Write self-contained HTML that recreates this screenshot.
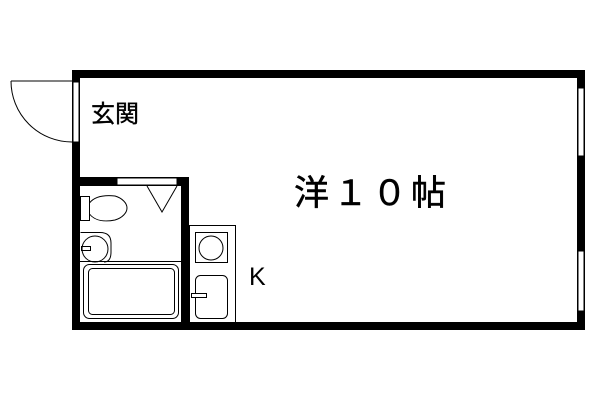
<!DOCTYPE html>
<html><head><meta charset="utf-8"><style>
html,body{margin:0;padding:0;background:#fff;}
svg{display:block}
text{font-family:"Liberation Sans","Noto Sans CJK JP",sans-serif;fill:#000}
</style></head><body>
<svg width="600" height="400" viewBox="0 0 600 400" xmlns="http://www.w3.org/2000/svg">
<rect width="600" height="400" fill="#fff"/>
<rect x="72" y="70" width="513" height="8" fill="#000"/>
<rect x="72" y="322" width="513" height="8" fill="#000"/>
<rect x="72" y="70" width="8" height="260" fill="#000"/>
<rect x="577" y="70" width="8" height="260" fill="#000"/>
<rect x="73" y="82" width="6" height="60" fill="#fff" stroke="#000" stroke-width="1"/>
<path d="M11 81 L72 81 M11 81 A61 61 0 0 0 72 142" fill="none" stroke="#000" stroke-width="1"/>
<rect x="578" y="88" width="6" height="68" fill="#fff" stroke="#000" stroke-width="1"/>
<rect x="578" y="251" width="6" height="60" fill="#fff" stroke="#000" stroke-width="1"/>
<rect x="80" y="177" width="109" height="9" fill="#000"/>
<rect x="181" y="177" width="8" height="150" fill="#000"/>
<rect x="117" y="178" width="60" height="7" fill="#fff" stroke="#000" stroke-width="1"/>
<g fill="none" stroke="#000" stroke-width="1">
<path d="M147 186 L162 212 L177 186"/>
<rect x="80.5" y="196.5" width="9" height="24"/>
<path d="M89.5 203 C95 196,105 195,115 196 C122 198,127 203,127 208 C127 213,122 218,115 220 C105 222,95 221,89.5 214"/>
<path d="M80.5 232.5 H100 Q111 232.5 111 243 V252 Q111 262 104 262"/>
<circle cx="95" cy="249" r="13"/>
<rect x="81.5" y="246.5" width="9" height="4"/>
<line x1="80" y1="261.5" x2="181" y2="261.5"/>
<rect x="83.5" y="264.5" width="95" height="54" rx="6"/>
<rect x="88.5" y="268.5" width="86" height="46" rx="4"/>
<rect x="189.5" y="225.5" width="46" height="97"/>
<rect x="195.5" y="232.5" width="32" height="30"/>
<circle cx="211" cy="248" r="12"/>
<rect x="195.5" y="275.5" width="32" height="43" rx="5"/>
<rect x="191.5" y="293.5" width="15" height="4" fill="#fff"/>
</g>
<text x="91" y="122" font-size="24" stroke="#000" stroke-width="0.4">玄関</text>
<text x="294" y="205" font-size="35" letter-spacing="4" stroke="#000" stroke-width="0.5">洋１０帖</text>
<text x="249" y="285" font-size="25">K</text>
</svg>
</body></html>
